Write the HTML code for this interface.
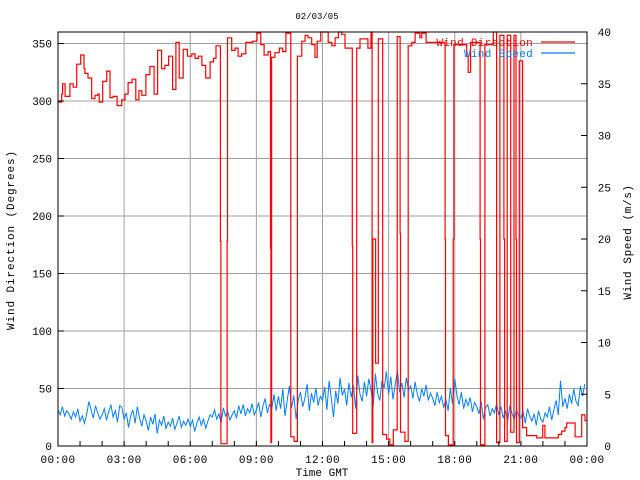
<!DOCTYPE html>
<html><head><meta charset="utf-8"><style>
body{margin:0;background:#fff;}
svg{display:block;font-family:"Liberation Mono","DejaVu Sans Mono",monospace;font-size:11px;}
</style></head><body>
<svg id="chart" width="640" height="480" viewBox="0 0 640 480">
<rect width="640" height="480" fill="#fff"/>
<g id="grid"></g>
<g id="series"></g>
<rect x="58" y="32" width="529" height="414" fill="none" stroke="#000" stroke-width="1"/>
<g id="axes"></g>
<text x="317" y="19" text-anchor="middle" style="font-size:9px">02/03/05</text>
<text x="322" y="476" text-anchor="middle">Time GMT</text>
<text transform="translate(14,240) rotate(-90)" text-anchor="middle" style="letter-spacing:0.9px">Wind Direction (Degrees)</text>
<text transform="translate(631,242) rotate(-90)" text-anchor="middle" style="letter-spacing:0.6px">Wind Speed (m/s)</text>
<g>
<text x="533" y="46" text-anchor="end" fill="#ff0000" style="letter-spacing:0.3px">Wind Direction</text>
<line x1="541" y1="42" x2="575" y2="42" stroke="#ff0000" stroke-width="1.2"/>
<text x="533" y="57" text-anchor="end" fill="#0080ff" style="letter-spacing:0.3px">Wind Speed</text>
<line x1="541" y1="53" x2="575" y2="53" stroke="#0080ff" stroke-width="1.2"/>
</g>
</svg>
<script>
const dirTimes=[0,0.17,0.21,0.32,0.54,0.69,0.85,1.03,1.18,1.22,1.36,1.53,1.68,1.80,1.87,2.03,2.21,2.36,2.50,2.68,2.89,3.04,3.18,3.36,3.53,3.67,3.80,3.99,4.17,4.36,4.52,4.70,4.85,5.02,5.20,5.35,5.50,5.68,5.87,6.07,6.22,6.37,6.53,6.70,6.90,7.05,7.17,7.37,7.39,7.67,7.69,7.88,8.03,8.17,8.33,8.52,8.83,9.03,9.20,9.35,9.53,9.64,9.66,9.69,9.84,10.04,10.19,10.34,10.56,10.71,10.86,11.06,11.21,11.34,11.51,11.66,11.76,11.92,12.26,12.42,12.57,12.72,12.87,13.02,13.35,13.37,13.55,13.70,14.06,14.20,14.25,14.28,14.41,14.53,14.73,14.91,15.06,15.21,15.39,15.52,15.54,15.74,15.89,16.05,16.20,16.42,16.50,16.70,17.56,17.58,17.71,17.93,17.96,18.54,18.61,18.72,19.15,19.17,19.37,19.75,19.90,20.05,20.23,20.26,20.38,20.54,20.69,20.78,20.80,20.93,21.08,21.26,21.72,21.99,22.09,22.70,22.85,23.00,23.08,23.46,23.76,23.91];
const dirValues=[299,306,315,304,315,312,332,340,328,324,320,302,305,306,299,317,326,303,304,296,301,306,316,319,301,309,305,323,330,306,344,328,331,339,310,351,320,345,339,341,337,339,331,320,334,337,348,178,2,178,355,344,346,339,341,351,352,359,349,340,343,172,3,338,342,346,343,359,8,4,339,352,357,355,349,338,352,360,351,348,355,360,358,346,174,11,346,354,346,360,3,180,72,354,10,6,1,14,356,185,12,4,348,351,359,355,359,351,180,9,1,180,349,339,325,351,180,1,349,360,3,357,180,4,357,12,357,180,3,335,16,9,7,18,7,10,13,16,20,8,27,22];
const speedValues=[3.5,3.0,3.8,2.9,3.4,3.1,2.6,3.3,2.8,3.6,
2.4,2.9,2.2,3.1,4.3,3.5,2.7,3.9,3.2,2.6,
3.0,3.6,2.5,3.3,4.0,2.8,3.4,2.3,3.9,3.7,
2.6,3.2,1.8,2.9,3.5,2.2,3.8,2.7,1.9,3.0,
2.4,1.5,2.8,2.1,3.1,1.2,2.5,2.0,2.9,1.7,
2.3,1.9,2.7,1.6,2.2,2.9,1.8,2.4,2.0,2.6,
1.9,2.5,1.4,2.2,2.8,2.0,2.6,1.7,2.4,3.0,
2.8,3.5,2.6,3.1,2.2,3.7,2.9,3.3,2.5,3.0,
3.4,2.7,3.9,3.1,4.0,2.9,3.6,3.2,4.1,3.0,
3.5,4.2,2.8,3.9,4.6,3.2,4.0,3.6,5.0,3.4,
4.8,3.6,5.5,2.9,4.4,5.8,3.7,4.9,2.6,4.5,
5.2,3.8,4.6,6.0,3.4,5.1,4.2,5.6,3.9,4.8,
4.4,5.7,3.5,6.3,4.6,2.8,5.3,4.1,6.6,4.9,
5.5,3.9,6.1,4.7,5.9,3.6,6.8,5.0,4.3,6.2,
4.8,6.5,5.4,3.8,7.0,5.1,4.4,6.3,5.6,7.2,
5.0,6.7,4.5,5.9,7.3,5.2,6.1,4.7,6.6,5.4,
5.8,4.6,6.2,5.0,4.3,5.5,4.8,5.9,4.4,5.1,
4.6,3.9,5.2,4.2,4.8,3.7,4.5,3.4,5.6,4.1,
6.5,4.8,4.0,5.2,3.6,4.5,3.9,4.7,3.3,4.2,
3.8,3.1,4.3,2.6,3.7,4.0,2.9,3.6,3.2,4.1,
3.0,3.8,2.7,3.4,2.4,3.9,3.1,2.6,3.5,2.9,
2.7,3.3,2.2,3.6,2.9,2.4,3.1,2.0,3.4,2.6,
2.3,3.2,2.8,3.8,2.5,3.5,4.4,3.0,6.3,3.8,
4.6,3.6,5.0,4.1,5.5,4.3,3.9,5.8,4.8,6.0];
const xTickLabels=["00:00","03:00","06:00","09:00","12:00","15:00","18:00","21:00","00:00"];
const leftTicks=[0,50,100,150,200,250,300,350];
const rightTicks=[0,5,10,15,20,25,30,35,40];

const NS="http://www.w3.org/2000/svg";
const X0=58,X1=587,Y0=446,Y1=32;
const xs=h=>X0+(h/24)*(X1-X0);
const yL=v=>Y0-(v/360)*(Y0-Y1);
const yR=v=>Y0-(v/40)*(Y0-Y1);
function mk(tag,attrs,parent){const e=document.createElementNS(NS,tag);for(const k in attrs)e.setAttribute(k,attrs[k]);parent.appendChild(e);return e;}
const grid=document.getElementById('grid'),axes=document.getElementById('axes'),series=document.getElementById('series');

xTickLabels.forEach((t,i)=>{
  const x=xs(i*3);
  if(i>0&&i<8){const g=mk('line',{x1:x,y1:Y1,x2:x,y2:Y0,stroke:'#a0a0a0','stroke-width':1},grid);
  
  }
  const tx=mk('text',{x:x,y:463,'text-anchor':'middle','style':'letter-spacing:0.4px'},axes);tx.textContent=t;
  
  
});
for(let h=1;h<24;h++){
  const tk=mk('line',{x1:xs(h),y1:Y0,x2:xs(h),y2:Y0-5,stroke:'#000'},axes);
  
  
}
leftTicks.forEach(v=>{
  const y=yL(v);
  if(v>0){const g=mk('line',{x1:X0,y1:y,x2:X1,y2:y,stroke:'#a0a0a0','stroke-width':1},grid);
  
  
  const tk=mk('line',{x1:X0,y1:y,x2:X0+6,y2:y,stroke:'#000'},axes);
  
  }
  const tx=mk('text',{x:52,y:y+4,'text-anchor':'end'},axes);tx.textContent=v;
  
  
});
rightTicks.forEach(v=>{
  const y=yR(v);
  const tk=mk('line',{x1:X1-6,y1:y,x2:X1,y2:y,stroke:'#000'},axes);
  
  
  const tx=mk('text',{x:611,y:y+4,'text-anchor':'end'},axes);tx.textContent=v;
  
  
});

// wind speed
let sp='';
speedValues.forEach((v,i)=>{const h=i*24/speedValues.length;sp+=(i?'L':'M')+xs(h).toFixed(1)+' '+yR(v).toFixed(1);});
const sl=mk('path',{d:sp,fill:'none',stroke:'#0080ff','stroke-width':1},series);



// wind direction step line
let dp='M'+xs(dirTimes[0])+' '+yL(dirValues[0]);
for(let i=1;i<dirTimes.length;i++){
  dp+='H'+xs(dirTimes[i]).toFixed(1)+'V'+yL(dirValues[i]).toFixed(1);
}
dp+='H'+X1;
const dl=mk('path',{d:dp,fill:'none',stroke:'#ff0000','stroke-width':1.2},series);


</script>
</body></html>
